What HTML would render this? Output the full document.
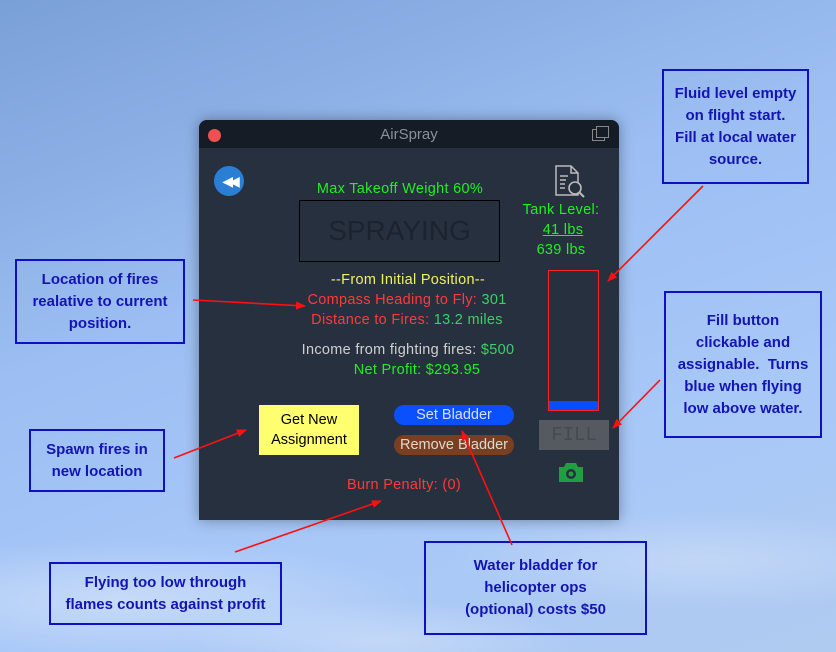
<!DOCTYPE html>
<html><head><meta charset="utf-8"><style>
*{margin:0;padding:0;box-sizing:border-box}
body{width:836px;height:652px;overflow:hidden;position:relative;font-family:"Liberation Sans",sans-serif;
background:radial-gradient(ellipse 300px 60px at 120px 600px,rgba(220,232,250,.6),transparent),
radial-gradient(ellipse 250px 50px at 700px 560px,rgba(215,228,250,.5),transparent),
radial-gradient(ellipse 200px 40px at 380px 640px,rgba(220,232,250,.5),transparent),
linear-gradient(160deg,#7aa0d8 0%,#9cbef2 40%,#a8c8f8 70%,#b0cbf0 100%);}
.a{position:absolute}
.c{position:absolute;border:2px solid #1010c0;color:#1414b4;font-weight:bold;font-size:15px;line-height:22px;text-align:center;display:flex;align-items:center;justify-content:center}
.win{position:absolute;left:199px;top:120px;width:420px;height:400px;background:#27303f;border-radius:8px 8px 0 0;box-shadow:0 0 14px rgba(0,0,0,.35)}
.tb{position:absolute;left:0;top:0;width:420px;height:28px;background:#161c26;border-radius:8px 8px 0 0;color:#8a8f98;font-size:15px;text-align:center;line-height:30px}
.t{position:absolute;font-size:14.5px;letter-spacing:.3px;white-space:nowrap;transform:translateX(-50%)}
</style></head><body>
<div class="win">
 <div class="tb">AirSpray</div>
 <div class="a" style="left:9px;top:9px;width:13px;height:13px;border-radius:50%;background:#f05050"></div>
 <div class="a" style="left:393px;top:9px;width:13px;height:12px;border:1.5px solid #888"></div>
 <div class="a" style="left:397px;top:6px;width:13px;height:12px;border:1.5px solid #888;background:#161c26"></div>
 <div class="a" style="left:15px;top:46px;width:30px;height:30px;border-radius:50%;background:#2a7fd4;color:#fff;font-size:14px;line-height:30px;text-align:center;letter-spacing:-4px">◀◀</div>
 <div class="t" style="left:201px;top:61px;color:#22ee22">Max Takeoff Weight 60%</div>
 <div class="a" style="left:100px;top:80px;width:201px;height:62px;border:1px solid #000;color:#1c2330;font-size:28px;text-align:center;line-height:60px">SPRAYING</div>
 <svg class="a" style="left:354px;top:44px" width="38" height="36"><path d="M3 2h15l7 7v22H3z M18 2v7h7" fill="none" stroke="#bbb" stroke-width="1.5"/><path d="M7 12h8M7 16h6M7 20h5M7 24h5" stroke="#bbb" stroke-width="1.5"/><circle cx="22" cy="24" r="6" fill="#27303f" stroke="#bbb" stroke-width="1.6"/><path d="M26 28l5 5" stroke="#bbb" stroke-width="2"/></svg>
 <div class="t" style="left:362px;top:82px;color:#22ee22">Tank Level:</div>
 <div class="t" style="left:364px;top:102px;color:#22ee22;text-decoration:underline">41 lbs</div>
 <div class="t" style="left:362px;top:122px;color:#22ee22">639 lbs</div>
 <div class="a" style="left:349px;top:150px;width:51px;height:141px;border:1px solid #ff2020"></div>
 <div class="a" style="left:350px;top:281px;width:49px;height:9px;background:#0a4cff"></div>
 <div class="a" style="left:340px;top:300px;width:70px;height:30px;background:#555a60;color:#444a50;font-size:19px;font-family:'Liberation Mono',monospace;text-align:center;line-height:30px">FILL</div>
 <svg class="a" style="left:358px;top:340px" width="28" height="24"><path d="M9 3h10l2 4h5v15H2V7h5z" fill="#1fa040"/><circle cx="14" cy="14" r="5" fill="#27303f"/><circle cx="14" cy="14" r="2.5" fill="#1fa040"/></svg>
 <div class="t" style="left:209px;top:152px;color:#f0f060">--From Initial Position--</div>
 <div class="t" style="left:208px;top:172px;color:#ff3a3a">Compass Heading to Fly: <span style="color:#3ccf6a">301</span></div>
 <div class="t" style="left:208px;top:192px;color:#ff3a3a">Distance to Fires: <span style="color:#3ccf6a">13.2 miles</span></div>
 <div class="t" style="left:209px;top:222px;color:#d0d0d0">Income from fighting fires: <span style="color:#3ccf6a">$500</span></div>
 <div class="t" style="left:218px;top:242px;color:#22ee22">Net Profit: $293.95</div>
 <div class="a" style="left:60px;top:285px;width:100px;height:50px;background:#ffff70;color:#000;font-size:14.5px;text-align:center;line-height:20px;padding-top:5px">Get New<br>Assignment</div>
 <div class="a" style="left:195px;top:285px;width:120px;height:20px;border-radius:10px;background:#0a50ff;color:#d8e0ff;font-size:14.5px;text-align:center;line-height:20px">Set Bladder</div>
 <div class="a" style="left:195px;top:315px;width:120px;height:20px;border-radius:10px;background:#7a3f20;color:#e0d8d0;font-size:14.5px;text-align:center;line-height:20px">Remove Bladder</div>
 <div class="t" style="left:205px;top:357px;color:#ff3a3a">Burn Penalty: (0)</div>
</div>
<div class="c" style="left:662px;top:69px;width:147px;height:115px">Fluid level empty<br>on flight start.<br>Fill at local water<br>source.</div>
<div class="c" style="left:15px;top:259px;width:170px;height:85px">Location of fires<br>realative to current<br>position.</div>
<div class="c" style="left:664px;top:291px;width:158px;height:147px">Fill button<br>clickable and<br>assignable.&nbsp; Turns<br>blue when flying<br>low above water.</div>
<div class="c" style="left:29px;top:429px;width:136px;height:63px">Spawn fires in<br>new location</div>
<div class="c" style="left:49px;top:562px;width:233px;height:63px">Flying too low through<br>flames counts against profit</div>
<div class="c" style="left:424px;top:541px;width:223px;height:94px">Water bladder for<br>helicopter ops<br>(optional) costs $50</div>
<svg class="a" style="left:0;top:0" width="836" height="652">
<defs><marker id="m" markerWidth="10" markerHeight="8" refX="9" refY="4" orient="auto" markerUnits="userSpaceOnUse"><path d="M0 0L10 4L0 8z" fill="#ff1010"/></marker></defs>
<g stroke="#ff1010" stroke-width="1.6" fill="none" marker-end="url(#m)">
<line x1="703" y1="186" x2="608" y2="281"/>
<line x1="193" y1="300" x2="305" y2="306"/>
<line x1="660" y1="380" x2="613" y2="428"/>
<line x1="174" y1="458" x2="246" y2="430"/>
<line x1="235" y1="552" x2="381" y2="501"/>
<line x1="512" y1="545" x2="462" y2="431"/>
</g></svg>
</body></html>
